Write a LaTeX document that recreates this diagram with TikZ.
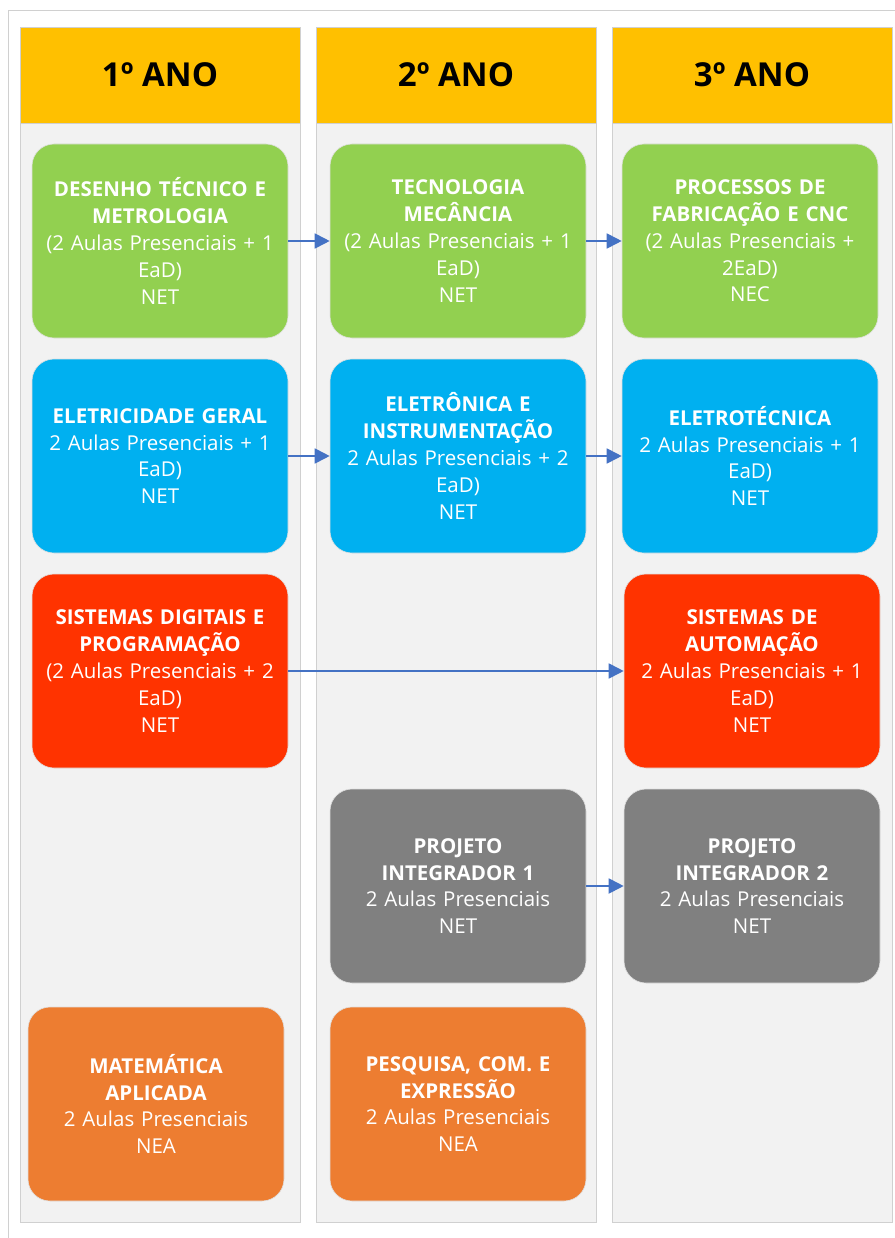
\documentclass[tikz,border=0pt]{standalone}
\usepackage{fontspec}
\setmainfont{Open Sans}
\usepackage{xcolor}
\usetikzlibrary{arrows.meta}

\definecolor{anoamarelo}{HTML}{FFC000}
\definecolor{fundocol}{HTML}{F2F2F2}
\definecolor{bordacol}{HTML}{D0D0D0}
\definecolor{verdedisc}{HTML}{92D050}
\definecolor{azuldisc}{HTML}{00B0F0}
\definecolor{vermdisc}{HTML}{FF3300}
\definecolor{cinzadisc}{HTML}{808080}
\definecolor{laranjadisc}{HTML}{ED7D31}
\definecolor{azulseta}{HTML}{4472C4}

\tikzset{
    coluna/.style = {draw = bordacol, fill = fundocol, line width = 0.8pt},
    cabecalho/.style = {draw = bordacol, fill = anoamarelo, line width = 0.8pt,
        minimum width = 280pt, minimum height = 96pt, inner sep = 0pt,
        font = \bfseries\fontsize{33}{38}\selectfont},
    disciplina/.style = {rounded corners = 22pt, draw = black!12, line width = 0.6pt,
        minimum width = 256pt, minimum height = 194pt, inner sep = 0pt,
        text width = 250pt, align = center, text = white,
        font = \fontsize{20.5}{26.8}\selectfont},
    seta/.style = {draw = azulseta, line width = 1.8pt,
        -{Triangle[length = 15pt, width = 15pt]}}
}

\begin{document}
\begin{tikzpicture}[x = 1pt, y = -1pt]
    \useasboundingbox (0, 0) rectangle (894, 1238);
    \fill[white] (0, 0) rectangle (894, 1238);

    % moldura externa
    \draw[bordacol, line width = 0.8pt] (8, 1238) -- (8, 10) -- (900, 10);

    % colunas
    \filldraw[coluna] (20, 123) rectangle (300, 1222);
    \filldraw[coluna] (316, 123) rectangle (596, 1222);
    \filldraw[coluna] (612, 123) rectangle (892, 1222);

    \node[cabecalho] (ano1) at (160, 75) {1º ANO};
    \node[cabecalho] (ano2) at (456, 75) {2º ANO};
    \node[cabecalho] (ano3) at (752, 75) {3º ANO};

    % 1o ano
    \node[disciplina, fill = verdedisc] (desenho) at (160, 241)
        {\textbf{DESENHO TÉCNICO E\\METROLOGIA}\\(2 Aulas Presenciais + 1\\EaD)\\NET};
    \node[disciplina, fill = azuldisc] (eletricidade) at (160, 456)
        {\textbf{ELETRICIDADE GERAL}\\2 Aulas Presenciais + 1\\EaD)\\NET};
    \node[disciplina, fill = vermdisc] (digitais) at (160, 671)
        {\textbf{SISTEMAS DIGITAIS E\\PROGRAMAÇÃO}\\(2 Aulas Presenciais + 2\\EaD)\\NET};
    \node[disciplina, fill = laranjadisc] (matematica) at (156, 1104)
        {\textbf{MATEMÁTICA\\APLICADA}\\2 Aulas Presenciais\\NEA};

    % 2o ano
    \node[disciplina, fill = verdedisc] (tecnologia) at (458, 241)
        {\textbf{TECNOLOGIA\\MECÂNCIA}\\(2 Aulas Presenciais + 1\\EaD)\\NET};
    \node[disciplina, fill = azuldisc] (eletronica) at (458, 456)
        {\textbf{ELETRÔNICA E\\INSTRUMENTAÇÃO}\\2 Aulas Presenciais + 2\\EaD)\\NET};
    \node[disciplina, fill = cinzadisc] (projeto1) at (458, 886)
        {\textbf{PROJETO\\INTEGRADOR 1}\\2 Aulas Presenciais\\NET};
    \node[disciplina, fill = laranjadisc] (pesquisa) at (458, 1104)
        {\textbf{PESQUISA, COM. E\\EXPRESSÃO}\\2 Aulas Presenciais\\NEA};

    % 3o ano
    \node[disciplina, fill = verdedisc] (processos) at (750, 241)
        {\textbf{PROCESSOS DE\\FABRICAÇÃO E CNC}\\(2 Aulas Presenciais +\\2EaD)\\NEC};
    \node[disciplina, fill = azuldisc] (eletrotecnica) at (750, 456)
        {\textbf{ELETROTÉCNICA}\\2 Aulas Presenciais + 1\\EaD)\\NET};
    \node[disciplina, fill = vermdisc] (automacao) at (752, 671)
        {\textbf{SISTEMAS DE\\AUTOMAÇÃO}\\2 Aulas Presenciais + 1\\EaD)\\NET};
    \node[disciplina, fill = cinzadisc] (projeto2) at (752, 886)
        {\textbf{PROJETO\\INTEGRADOR 2}\\2 Aulas Presenciais\\NET};

    % setas
    \draw[seta] (desenho) -- (tecnologia);
    \draw[seta] (tecnologia) -- (processos);
    \draw[seta] (eletricidade) -- (eletronica);
    \draw[seta] (eletronica) -- (eletrotecnica);
    \draw[seta] (digitais) -- (automacao);
    \draw[seta] (projeto1) -- (projeto2);
\end{tikzpicture}
\end{document}
